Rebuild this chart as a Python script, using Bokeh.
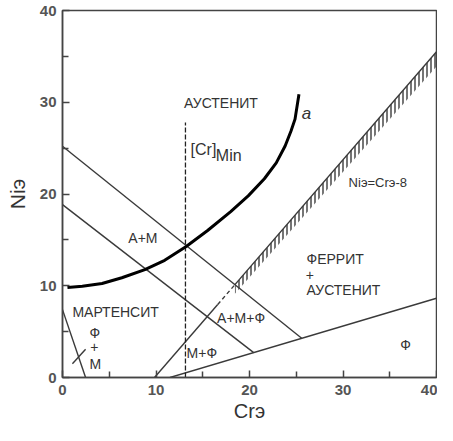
from bokeh.plotting import figure
from bokeh.models import FixedTicker, Label, Range1d, ColumnDataSource
from bokeh.core.properties import value
from bokeh.embed import file_html
from bokeh.resources import INLINE

# ---- data ----
x_ticks = [0, 10, 20, 30, 40]
x_minor = [5, 15, 25, 35]
y_ticks = [0, 10, 20, 30, 40]
y_minor = [5, 15, 25, 35]

curve_a_cr = [0.53, 2.12, 4.23, 6.35, 8.81, 10.93, 13.23, 15.52, 17.99, 19.89,
              21.59, 22.86, 23.81, 24.44, 24.87, 25.29]
curve_a_ni = [9.80, 9.95, 10.24, 10.87, 11.76, 12.77, 14.28, 16.02, 18.08, 19.82,
              21.66, 23.39, 25.23, 26.86, 28.16, 30.88]

upper_diag_cr = [0, 25.58]
upper_diag_ni = [25.2, 4.27]
lower_diag_cr = [0, 20.45]
lower_diag_ni = [18.84, 2.71]
ferrite_cr = [11.5, 40]
ferrite_ni = [0, 8.64]
mart_cr = [0, 2.47]
mart_ni = [7.4, 0]
pointer_cr = [1.06, 2.47]
pointer_ni = [1.49, 3.08]
mf_cr = [9.84, 16.6]
mf_ni = [0, 7.96]
mf_dash_cr = [16.6, 18.44]
mf_dash_ni = [7.96, 10.12]
nicr8_cr = [18.44, 40]
nicr8_ni = [10.12, 35.5]
crmin_cr = [13.15, 13.15]
crmin_ni = [0, 27.8]

# region labels
lab_left_text = ["АУСТЕНИТ", "МАРТЕНСИТ", "ФЕРРИТ", "АУСТЕНИТ", "[Cr]", "Min", "Niэ=Crэ-8"]
lab_left_x = [13.0, 1.06, 26.1, 26.1, 13.7, 16.4, 30.6]
lab_left_y = [29.9, 7.16, 12.95, 9.51, 24.9, 24.2, 21.3]
lab_left_size = ["14px", "14px", "14px", "14px", "16px", "16px", "13px"]

lab_center_text = ["А+М", "Ф", "+", "М", "М+Ф", "А+М+Ф", "+", "Ф"]
lab_center_x = [8.6, 3.46, 3.4, 3.5, 14.9, 19.1, 26.45, 36.7]
lab_center_y = [15.15, 4.88, 3.36, 1.49, 2.71, 6.47, 11.14, 3.55]

LINE = "#3a3a3a"
TXT = "#333333"
FONT = "Liberation Sans"

p = figure(width=437, height=425, output_backend="svg", toolbar_location=None,
           x_range=Range1d(0, 40), y_range=Range1d(0, 40),
           min_border_left=62, min_border_right=1, min_border_top=10, min_border_bottom=48)
p.grid.visible = False
p.outline_line_color = "#444444"
p.outline_line_width = 1.5
p.background_fill_color = "white"
p.border_fill_color = "white"

for ax, t, m in ((p.xaxis, x_ticks, x_minor), (p.yaxis, y_ticks, y_minor)):
    ax.ticker = FixedTicker(ticks=t, minor_ticks=m)
    ax.axis_line_color = "#444444"
    ax.axis_line_width = 1.5
    ax.major_tick_in = 7
    ax.major_tick_out = 0
    ax.minor_tick_in = 6
    ax.minor_tick_out = 0
    ax.major_tick_line_color = "#444444"
    ax.minor_tick_line_color = "#444444"
    ax.major_tick_line_width = 1.5
    ax.minor_tick_line_width = 1.5
    ax.major_label_text_font = FONT
    ax.major_label_text_font_size = "15px"
    ax.major_label_text_font_style = "bold"
    ax.major_label_text_color = "#555555"
    ax.axis_label_text_font = FONT
    ax.axis_label_text_font_style = "normal"
    ax.axis_label_text_color = TXT
p.xaxis.major_label_standoff = 7
p.yaxis.major_label_standoff = 6
p.xaxis.axis_label = "Crэ"
p.yaxis.axis_label = "Niэ"
p.xaxis.axis_label_text_font_size = "20px"
p.yaxis.axis_label_text_font_size = "21px"
p.xaxis.axis_label_standoff = 2
p.yaxis.axis_label_standoff = 8

# hatched strip under Ni=Cr-8 line
p.patch(x=[nicr8_cr[0], nicr8_cr[1], nicr8_cr[1], nicr8_cr[0]],
        y=[nicr8_ni[0], nicr8_ni[1], nicr8_ni[1] - 1.6, nicr8_ni[0] - 1.0],
        fill_alpha=0, line_alpha=0, hatch_pattern="vertical_line",
        hatch_color="#3a3a3a", hatch_scale=4, hatch_weight=1.4)

for xs, ys in ((upper_diag_cr, upper_diag_ni), (lower_diag_cr, lower_diag_ni),
               (ferrite_cr, ferrite_ni), (mart_cr, mart_ni), (pointer_cr, pointer_ni),
               (mf_cr, mf_ni), (nicr8_cr, nicr8_ni)):
    p.line(xs, ys, line_color=LINE, line_width=1.4)

p.line(mf_dash_cr, mf_dash_ni, line_color=LINE, line_width=1.4, line_dash="4 3")
p.line(crmin_cr, crmin_ni, line_color="#222222", line_width=1.3, line_dash="5 2")
p.line(curve_a_cr, curve_a_ni, line_color="black", line_width=3, line_join="round")

src_l = ColumnDataSource(dict(x=lab_left_x, y=lab_left_y, t=lab_left_text, s=lab_left_size))
p.text(x="x", y="y", text="t", source=src_l, text_font=value(FONT), text_font_size="s",
       text_color=TXT, text_align="left", text_baseline="middle")
src_c = ColumnDataSource(dict(x=lab_center_x, y=lab_center_y, t=lab_center_text))
p.text(x="x", y="y", text="t", source=src_c, text_font=value(FONT), text_font_size="14px",
       text_color=TXT, text_align="center", text_baseline="middle")
p.add_layout(Label(x=25.6, y=28.8, text="a", text_font=FONT, text_font_size="17px",
                   text_font_style="italic", text_color=TXT, text_baseline="middle"))

open("out.html", "w").write(file_html(p, INLINE))
